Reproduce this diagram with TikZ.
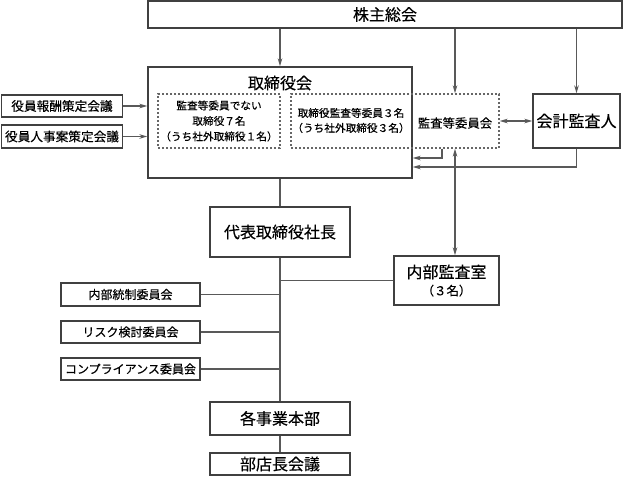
\documentclass[tikz,border=0pt]{standalone}
\usepackage{fontspec}
\setmainfont[FakeBold=0.3]{Noto Sans CJK JP}
\usetikzlibrary{arrows.meta}
\tikzstyle{orgbox} = [rectangle, 
draw=black!75, 
line width=1pt, 
inner sep=0pt, 
text centered]
\tikzstyle{dotbox} = [rectangle, draw=black!60, line width=1pt, dash pattern=on 1.5pt off 1.5pt, inner sep=0pt]
\tikzstyle{bigtext} = [font=\fontsize{12}{14}\selectfont]
\tikzstyle{midtext} = [font=\fontsize{9}{11}\selectfont]
\tikzstyle{lefttext} = [font=\fontsize{9.5}{11}\selectfont]
\tikzstyle{smalltext} = [font=\fontsize{8}{11.6}\selectfont, align=center]
\tikzstyle{link} = [draw=black!65, line width=1pt]
\tikzstyle{arrow} = [link, -{Stealth[length=6pt,width=3.4pt]}]
\tikzstyle{dualarrow} = [link, {Stealth[length=6pt,width=3.4pt]}-{Stealth[length=6pt,width=3.4pt]}]
\begin{document}
\begin{tikzpicture}[x=0.75pt, y=-0.75pt]
        \useasboundingbox (0,0) rectangle (624,476);
        \node (gm) [orgbox, bigtext, minimum width=355.5pt, minimum height=20.25pt] at (385,14.5) {株主総会};
        \node (board) [orgbox, minimum width=198pt, minimum height=83.25pt] at (280,122.5) {};
        \node (boardt) [bigtext] at (280,83) {取締役会};
        \node (dir7) [dotbox, smalltext, minimum width=91.5pt, minimum height=40.5pt] at (219,121) {監査等委員でない\\取締役７名\\（うち社外取締役１名）};
        \node (ac) [dotbox, minimum width=156pt, minimum height=40.5pt] at (395,121) {};
        \node (acm) [smalltext, font=\fontsize{8}{11.2}\selectfont] at (351,120.5) {取締役監査等委員３名\\（うち社外取締役３名）};
        \node (acl) [font=\fontsize{9.3}{11}\selectfont] at (455,123) {監査等委員会};
        \node (auditor) [orgbox, bigtext, minimum width=65.25pt, minimum height=40.5pt] at (576.5,121) {会計監査人};
        \node (rem) [orgbox, lefttext, minimum width=90.75pt, minimum height=16.5pt] at (62,106) {役員報酬策定会議};
        \node (nom) [orgbox, lefttext, minimum width=90.75pt, minimum height=17.25pt] at (62,136.5) {役員人事案策定会議};
        \node (pres) [orgbox, bigtext, minimum width=105pt, minimum height=37.5pt] at (280,232) {代表取締役社長};
        \node (ia) [orgbox, bigtext, align=center, minimum width=78.75pt, minimum height=36.75pt] at (446.5,280.5) {内部監査室\\[-1pt]{\fontsize{9.3}{11}\selectfont （３名）}};
        \node (icc) [orgbox, midtext, minimum width=104.25pt, minimum height=17.25pt] at (130.5,294.5) {内部統制委員会};
        \node (risk) [orgbox, midtext, minimum width=104.25pt, minimum height=16.5pt] at (130.5,332) {リスク検討委員会};
        \node (comp) [orgbox, midtext, minimum width=104.25pt, minimum height=16.5pt] at (130.5,369) {コンプライアンス委員会};
        \node (div) [orgbox, bigtext, minimum width=105pt, minimum height=24.75pt] at (280,418.5) {各事業本部};
        \node (mgr) [orgbox, bigtext, minimum width=105pt, minimum height=16.5pt] at (280,464) {部店長会議};
        \coordinate (fb) at (442,158);
        \coordinate (fb2) at (0,167);
        % from the general meeting
        \draw [arrow] (board.north |- gm.south) -- (board.north);
        \draw [arrow] (acl |- gm.south) -- (acl |- ac.north);
        \draw [arrow] (auditor.north |- gm.south) -- (auditor.north);
        % committees and auditors
        \draw [arrow] (rem.east) -- (rem.east -| board.west);
        \draw [arrow] (nom.east) -- (nom.east -| board.west);
        \draw [dualarrow] (ac.east) -- (auditor.west);
        \draw [arrow] (fb |- ac.south) -- (fb) -- (fb -| board.east);
        \draw [arrow] (auditor.south) |- (board.east |- fb2);
        \draw [dualarrow] (acl |- ac.south) -- (acl |- ia.north);
        % executive line
        \draw [link] (board.south) -- (pres.north);
        \draw [link] (pres.south) -- (div.north);
        \draw [link] (div.south) -- (mgr.north);
        \draw [link] (ia.west) -- (ia.west -| pres.south);
        \draw [link] (icc.east) -- (icc.east -| pres.south);
        \draw [link] (risk.east) -- (risk.east -| pres.south);
        \draw [link] (comp.east) -- (comp.east -| pres.south);
    \end{tikzpicture}
\end{document}
